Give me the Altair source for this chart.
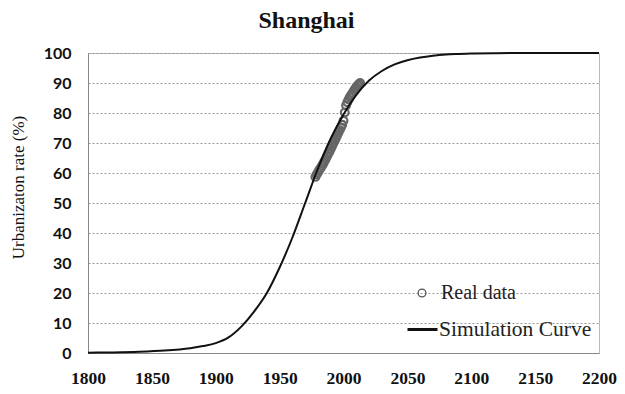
import altair as alt
import pandas as pd

# Simulation curve
curve_years = [1800, 1820, 1840, 1860, 1880, 1890, 1900, 1910, 1920, 1930, 1940,
               1950, 1960, 1970, 1980, 1990, 2000, 2010, 2020, 2030, 2040, 2050,
               2060, 2070, 2080, 2090, 2100, 2120, 2150, 2200]
curve_vals = [0.1, 0.2, 0.4, 0.8, 1.6, 2.3, 3.3, 5.2, 8.8, 13.8, 20.0,
              28.5, 38.5, 50.0, 61.5, 71.5, 79.5, 86.0, 90.8, 94.0, 96.2, 97.6,
              98.5, 99.1, 99.5, 99.7, 99.85, 99.95, 100.0, 100.0]

# Real data
real_years = list(range(1978, 2014))
real_vals = [58.7, 59.5, 60.2, 61.0, 61.6, 62.3, 63.0, 63.8, 64.6, 65.5, 66.3, 67.1,
             68.0, 68.9, 69.8, 70.7, 71.6, 72.5, 73.4, 74.3, 75.2, 76.1, 77.4, 80.2,
             82.5, 83.6, 84.5, 85.3, 86.0, 86.6, 87.3, 88.0, 88.6, 89.2, 89.6, 90.0]

x_ticks = [1800, 1850, 1900, 1950, 2000, 2050, 2100, 2150, 2200]
y_ticks = [0, 10, 20, 30, 40, 50, 60, 70, 80, 90, 100]

curve_df = pd.DataFrame({"year": curve_years, "rate": curve_vals, "series": "Simulation Curve"})
real_df = pd.DataFrame({"year": real_years, "rate": real_vals, "series": "Real data"})

serif = "Liberation Serif"

x_enc = alt.X("year:Q",
              scale=alt.Scale(domain=[1800, 2200], nice=False, zero=False),
              axis=alt.Axis(values=x_ticks, title=None, grid=False, ticks=False,
                            labelFont=serif, labelFontSize=17.5, labelFontWeight="bold",
                            labelColor="#111", labelPadding=16, labelFlush=False,
                            domainColor="#888", format="d"))
y_enc = alt.Y("rate:Q",
              scale=alt.Scale(domain=[0, 100], nice=False, zero=False),
              axis=alt.Axis(values=y_ticks, title="Urbanizaton rate (%)", grid=True,
                            gridDash=[2, 2], gridColor="#999", gridWidth=1,
                            ticks=False, labelFont="Lato", labelFontSize=16,
                            labelFontWeight="bold", labelColor="#111", labelPadding=17,
                            labelFlush=False,
                            titleFont=serif, titleFontSize=17, titleFontWeight="normal",
                            titleColor="#111", titlePadding=16, titleY=134,
                            domainColor="#888"))

line = alt.Chart(curve_df).mark_line(strokeWidth=2, interpolate="monotone").encode(
    x=x_enc, y=y_enc,
    color=alt.Color("series:N",
                    scale=alt.Scale(domain=["Simulation Curve"], range=["#111111"]),
                    legend=alt.Legend(title=None, orient="none", legendX=318, legendY=260,
                                      symbolSize=900, symbolStrokeWidth=3,
                                      labelFont=serif, labelFontSize=21.5, labelColor="#222",
                                      labelOffset=0, padding=0)))

points = alt.Chart(real_df).mark_point(filled=False, size=60, strokeWidth=2.2,
                                        color="#666666", opacity=1).encode(
    x=x_enc, y=y_enc,
    shape=alt.Shape("series:N",
                    scale=alt.Scale(domain=["Real data"], range=["circle"]),
                    legend=alt.Legend(title=None, orient="none", legendX=324, legendY=230,
                                      symbolSize=60, symbolStrokeColor="#555",
                                      symbolStrokeWidth=1.3,
                                      labelFont=serif, labelFontSize=20, labelColor="#222",
                                      labelOffset=9, padding=0)))

chart = alt.layer(points, line).properties(
    width=511, height=300,
    title=alt.TitleParams("Shanghai", font=serif, fontSize=24, fontWeight="bold",
                          color="#111", anchor="middle", dx=-37, offset=12),
    autosize=alt.AutoSizeParams(type="none"),
    padding={"left": 80, "top": 45, "right": 18, "bottom": 33},
).configure_view(stroke="#bbb", strokeWidth=1)

chart.save("out.html", embed_options={"renderer": "svg", "actions": False})
